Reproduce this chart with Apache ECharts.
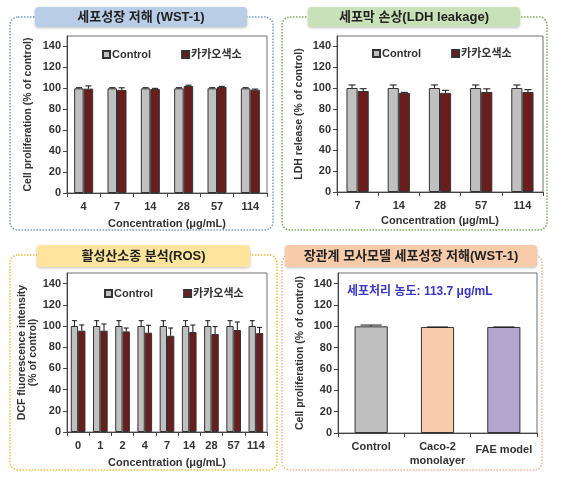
<!DOCTYPE html>
<html><head><meta charset="utf-8">
<script src="https://cdn.jsdelivr.net/npm/echarts@6/dist/echarts.min.js"></script>
<style>html,body{margin:0;padding:0;background:#fff}#c{width:561px;height:482px}</style>
</head><body><div id="c"></div>
<script>
// ---- data ----
const cat1 = ['4','7','14','28','57','114'];
const ctrl1 = [100,100,100,100,100,100];
const ctrlErr1 = [0.6,0.6,0.6,0.6,0.6,0.6];
const kakao1 = [99.7,98.5,99.4,102.2,101.3,98.7];
const kakaoErr1 = [2.6,2.0,0.6,0.8,0.6,0.6];

const cat2 = ['7','14','28','57','114'];
const ctrl2 = [100,100,100,100,100];
const ctrlErr2 = [2.9,2.9,2.9,2.9,2.9];
const kakao2 = [97.1,95.3,95.3,96.2,96.2];
const kakaoErr2 = [2.2,0.5,2.5,3.0,2.2];

const cat3 = ['0','1','2','4','7','14','28','57','114'];
const ctrl3 = [100,100,100,100,100,100,100,100,100];
const ctrlErr3 = [5,5,5,5,5,5,5,5,5];
const kakao3 = [95.6,95.6,94.9,93.7,90.8,94.3,92.4,96.2,93.3];
const kakaoErr3 = [5.4,6.3,3.2,7.0,7.3,6.6,7.0,7.6,5.4];

const cat4 = ['Control','Caco-2\nmonolayer','FAE model'];
const vals4 = [100,99.4,99.4];
const errs4 = [1.2,0,0];

const yTicks = [0,20,40,60,80,100,120,140];

// ---- styles ----
const FONT = "'Liberation Sans', Arial, 'Noto Sans CJK KR', sans-serif";
const GRAY = '#c0c0c0', RED = '#6a1d1d', EDGE = '#333';

const grids = [
  {left:67, top:36, width:200, height:157},
  {left:337, top:36, width:206, height:156},
  {left:67, top:273, width:200, height:159},
  {left:338, top:273, width:199, height:160}
].map(g => Object.assign({show:true, borderColor:'#707070', borderWidth:1, containLabel:false}, g));

function yAx(i, name, gap, lh){
  return {type:'value', gridIndex:i, min:0, max:150, interval:10,
    name:name, nameLocation:'middle', nameGap:gap, nameRotate:90,
    nameTextStyle:{fontFamily:FONT, fontWeight:'bold', fontSize:10.5, color:'#333', lineHeight:lh || 14},
    axisLine:{show:true, lineStyle:{color:'#444'}},
    axisTick:{show:true, length:4, customValues:yTicks, lineStyle:{color:'#444'}},
    axisLabel:{customValues:yTicks, margin:6, fontFamily:FONT, fontWeight:'bold', fontSize:11, color:'#333'},
    splitLine:{show:false}};
}
function xAx(i, cats, name, gap){
  return {type:'category', gridIndex:i, data:cats,
    name:name, nameLocation:'middle', nameGap:gap,
    nameTextStyle:{fontFamily:FONT, fontWeight:'bold', fontSize:11, color:'#333'},
    axisLine:{lineStyle:{color:'#444'}},
    axisTick:{show:true, length:4, lineStyle:{color:'#444'}},
    axisLabel:{margin:7, fontFamily:FONT, fontWeight:'bold', fontSize:11, color:'#333', lineHeight:14, interval:0},
    splitLine:{show:false}};
}

function bar(i, name, data, color, w){
  return {type:'bar', name:name, xAxisIndex:i, yAxisIndex:i, data:data, barWidth:w, barGap:'0%',
    itemStyle:{color:color, borderColor:EDGE, borderWidth:1}, z:2, silent:true};
}
function errs(i, vals, es, side, frac){
  return {type:'custom', xAxisIndex:i, yAxisIndex:i, z:10, silent:true,
    data: vals.map((v,k)=>[k, v, es[k]]),
    renderItem:function(params, api){
      const x = api.value(0), y = api.value(1), e = api.value(2);
      const p = api.coord([x, y]);
      const t = api.coord([x, y + e]);
      const band = api.size([1,0])[0];
      const cx = p[0] + side*band*frac/2;
      const cw = Math.max(2.5, band*frac*0.32);
      return {type:'group', children:[
        {type:'line', shape:{x1:cx, y1:p[1], x2:cx, y2:t[1]}, style:{stroke:'#111', lineWidth:1}},
        {type:'line', shape:{x1:cx-cw, y1:t[1], x2:cx+cw, y2:t[1]}, style:{stroke:'#111', lineWidth:1}}
      ]};
    }};
}

function legend(left, top){
  return {data:['Control','카카오색소'], left:left, top:top, itemWidth:7, itemHeight:7, itemGap:30,
    icon:'rect', selectedMode:false,
    textStyle:{fontFamily:FONT, fontWeight:'bold', fontSize:11, color:'#333', padding:[0,0,0,-3]}};
}

function frameBox(x, y, w, h, color){
  return {type:'rect', shape:{x:x, y:y, width:w, height:h, r:8}, z:-5,
    style:{fill:'none', stroke:color, lineWidth:1.5, lineDash:[1.5,1.5]}};
}
function titleBox(x, y, w, h, fill, text){
  return {type:'group', z:100, children:[
    {type:'rect', shape:{x:x, y:y, width:w, height:h, r:4},
     style:{fill:fill, shadowBlur:3, shadowColor:'rgba(0,0,0,0.25)', shadowOffsetY:1}},
    {type:'text', x:x+w/2, y:y+h/2,
     style:{text:text, fill:'#222', font:"bold 13px " + FONT, align:'center', verticalAlign:'middle'}}
  ]};
}

const option = {
  animation:false,
  backgroundColor:'#fff',
  grid: grids,
  xAxis:[
    xAx(0, cat1, 'Concentration (μg/mL)', 25),
    xAx(1, cat2, 'Concentration (μg/mL)', 23),
    xAx(2, cat3, 'Concentration (μg/mL)', 25),
    Object.assign(xAx(3, cat4, '', 0), {axisLabel:{margin:7, fontFamily:FONT, fontWeight:'bold', fontSize:11, color:'#333', lineHeight:14, interval:0,
      formatter:function(v){ return v === 'FAE model' ? '{d|' + v + '}' : v; },
      rich:{d:{padding:[5,0,0,0], fontFamily:FONT, fontWeight:'bold', fontSize:11, color:'#333'}}}})
  ],
  yAxis:[
    yAx(0, 'Cell proliferation (% of control)', 32),
    yAx(1, 'LDH release (% of control)', 31),
    yAx(2, 'DCF fluorescence intensity\n(% of control)', 26, 11),
    yAx(3, 'Cell proliferation (% of control)', 31)
  ],
  legend:[legend(97,44), legend(367,43), legend(99,283)],
  series:[
    bar(0,'Control',ctrl1,GRAY,'28.5%'), bar(0,'카카오색소',kakao1,RED,'28.5%'),
    errs(0, ctrl1, ctrlErr1, -1, 0.285), errs(0, kakao1, kakaoErr1, 1, 0.285),
    bar(1,'Control',ctrl2,GRAY,'27%'), bar(1,'카카오색소',kakao2,RED,'27%'),
    errs(1, ctrl2, ctrlErr2, -1, 0.27), errs(1, kakao2, kakaoErr2, 1, 0.27),
    bar(2,'Control',ctrl3,GRAY,'33%'), bar(2,'카카오색소',kakao3,RED,'33%'),
    errs(2, ctrl3, ctrlErr3, -1, 0.33), errs(2, kakao3, kakaoErr3, 1, 0.33),
    {type:'bar', name:'model', xAxisIndex:3, yAxisIndex:3, barWidth:'50%', silent:true,
      data: vals4.map((v,k)=>({value:v, itemStyle:{color:['#bfbfbf','#f8cbad','#b4a7cf'][k]}})),
      itemStyle:{borderColor:EDGE, borderWidth:1}},
    errs(3, vals4, errs4, 0, 0.5)
  ],
  graphic:[
    frameBox(10,17,263,213,'#6f9fd0'),
    frameBox(282,17,265,213,'#79ad55'),
    frameBox(10,255,267,215,'#f0c23c'),
    frameBox(282,255,260,215,'#f2b48c'),
    titleBox(35,7,212,20,'#b9cde6','세포성장 저해 (WST-1)'),
    titleBox(308,7,212,20,'#c9e1b8','세포막 손상(LDH leakage)'),
    titleBox(37,245,213,22,'#ffe59c','활성산소종 분석(ROS)'),
    titleBox(285,245,252,22,'#f7cbaa','장관계 모사모델 세포성장 저해(WST-1)'),
    {type:'text', x:347, y:292, z:50,
     style:{text:'세포처리 농도: 113.7 μg/mL', fill:'#3636c8', font:"bold 12px " + FONT, verticalAlign:'middle'}}
  ]
};
const chart = echarts.init(document.getElementById('c'), null, {renderer:'canvas'});
chart.setOption(option);
</script></body></html>
